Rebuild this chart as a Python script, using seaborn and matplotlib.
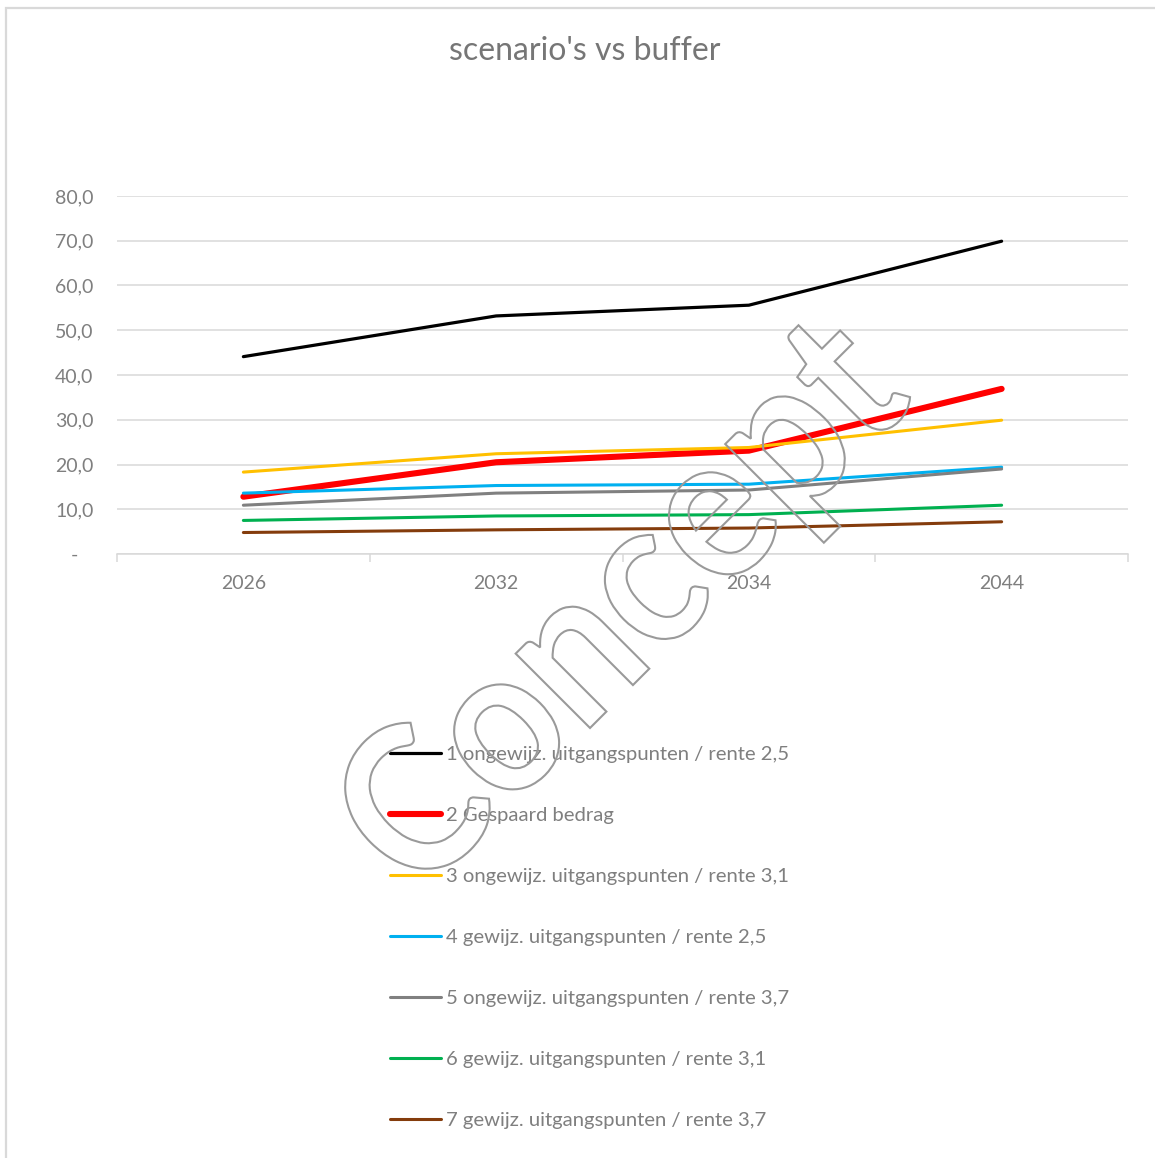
import matplotlib
matplotlib.use("Agg")
import matplotlib.pyplot as plt
import seaborn as sns
import pandas as pd
from matplotlib.ticker import FuncFormatter, FixedLocator
from matplotlib.textpath import TextPath
from matplotlib.patches import PathPatch, Rectangle
from matplotlib.font_manager import FontProperties
from matplotlib.transforms import Affine2D

# data
years = ["2026", "2032", "2034", "2044"]
scenarios = [
    "1 ongewijz. uitgangspunten / rente 2,5",
    "2 Gespaard bedrag",
    "3 ongewijz. uitgangspunten / rente 3,1",
    "4 gewijz. uitgangspunten / rente 2,5",
    "5 ongewijz. uitgangspunten / rente 3,7",
    "6 gewijz. uitgangspunten / rente 3,1",
    "7 gewijz. uitgangspunten / rente 3,7",
]
s1 = [44.1, 53.2, 55.6, 69.9]
s2 = [12.8, 20.5, 23.1, 36.9]
s3 = [18.3, 22.4, 23.8, 29.9]
s4 = [13.6, 15.3, 15.6, 19.4]
s5 = [10.9, 13.6, 14.3, 19.0]
s6 = [7.5, 8.5, 8.8, 10.9]
s7 = [4.8, 5.4, 5.8, 7.2]
colors = ["#000000", "#FF0000", "#FFC000", "#00B0F0", "#808080", "#00B050", "#843C0C"]
widths = [2.3, 4.4, 2.2, 2.2, 2.2, 2.2, 2.2]

series = [s1, s2, s3, s4, s5, s6, s7]
rows = []
for name, vals in zip(scenarios, series):
    for i, v in enumerate(vals):
        rows.append({"scenario": name, "pos": i, "value": v})
df = pd.DataFrame(rows)

sns.set_theme(style="white")
plt.rcParams["font.family"] = ["Lato", "DejaVu Sans"]

W, H = 1155, 1158
fig = plt.figure(figsize=(W / 100, H / 100), dpi=100)
ax = fig.add_axes([117 / W, 1 - 554 / H, (1128 - 117) / W, (554 - 196) / H])

for name, col, lw in zip(scenarios, colors, widths):
    sns.lineplot(data=df[df["scenario"] == name], x="pos", y="value",
                 color=col, linewidth=lw, label=name, ax=ax)

grey_txt = "#7f7f7f"
grid_col = "#d9d9d9"
ax.set_xlim(-0.5, 3.5)
ax.set_ylim(0, 80)
ax.set_yticks(range(0, 81, 10))
ax.yaxis.set_major_formatter(FuncFormatter(
    lambda v, p: "-   " if v == 0 else f"{v:.1f}".replace(".", ",")))
ax.set_xticks(range(len(years)))
ax.set_xticklabels(years)
ax.xaxis.set_minor_locator(FixedLocator([-0.5, 0.5, 1.5, 2.5, 3.5]))
ax.tick_params(axis="x", which="major", length=0, pad=15, labelsize=14, labelcolor=grey_txt)
ax.tick_params(axis="x", which="minor", length=6, width=1.1, color=grid_col, bottom=True)
ax.tick_params(axis="y", length=0, pad=17, labelsize=14, labelcolor=grey_txt)
ax.grid(axis="y", color=grid_col, linewidth=1.1)
ax.set_axisbelow(True)
for side in ["top", "right", "left"]:
    ax.spines[side].set_visible(False)
ax.spines["bottom"].set_color(grid_col)
ax.spines["bottom"].set_linewidth(1.1)
ax.set_xlabel("")
ax.set_ylabel("")

handles, labels = ax.get_legend_handles_labels()
ax.get_legend().remove()
fig.legend(handles, labels, loc="upper left", bbox_to_anchor=(390 / W, 1 - 746 / H),
           frameon=False, fontsize=14.6, labelcolor=grey_txt, handlelength=2.5,
           handletextpad=0.25, labelspacing=2.16, borderpad=0, borderaxespad=0)

fig.text(585 / W, 1 - 51 / H, "scenario's vs buffer", ha="center", va="center",
         fontsize=23, color="#767676")

# chart frame (only top and left edges visible in the reference)
fig.add_artist(Rectangle((6 / W, -0.1), 1.2, (H - 8) / H + 0.1, transform=fig.transFigure,
                         fill=False, edgecolor=grid_col, linewidth=1.6))

# "Concept" watermark outline
tp = TextPath((0, 0), "Concept", size=205,
              prop=FontProperties(family="Lato", weight="bold"))
tr = Affine2D().scale(0.915, 1).rotate_deg(45).translate(418, 258).scale(1 / 100)
wm = PathPatch(tr.transform_path(tp), facecolor="none", edgecolor="#9a9a9a",
               linewidth=1.5, transform=fig.dpi_scale_trans, zorder=10)
fig.add_artist(wm)

fig.savefig("out.png", dpi=100)
plt.close(fig)
